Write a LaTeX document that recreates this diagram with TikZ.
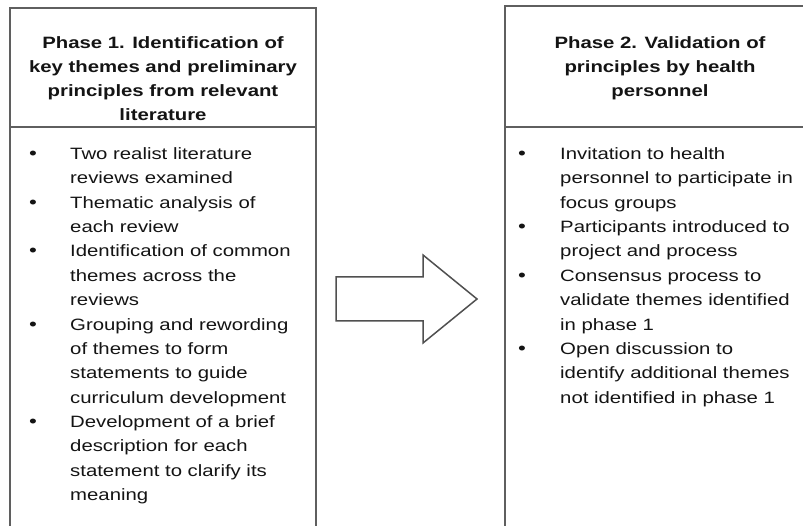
\documentclass[tikz,border=0pt]{standalone}
\usepackage{fontspec}
\setmainfont{Liberation Sans}[FakeStretch=1.24]
\definecolor{boxline}{RGB}{95,95,95}
\definecolor{arrline}{RGB}{80,80,80}
\definecolor{txt}{RGB}{20,20,20}
\begin{document}
\begin{tikzpicture}[x=1pt,y=-1pt,
  boxframe/.style={draw=boxline,line width=1.8pt},
  arrowshape/.style={draw=arrline,line width=1.5pt,line join=miter,fill=white},
  bodyline/.style={anchor=base west,inner sep=0pt,text=txt,font=\fontsize{16.4}{18}\selectfont},
  headline/.style={anchor=base,inner sep=0pt,text=txt,font=\fontsize{16.4}{18}\selectfont\bfseries},
  bulletmark/.style={anchor=base,inner sep=0pt,text=txt,font=\fontsize{18}{18}\selectfont}]
\useasboundingbox (0,0) rectangle (803,526);
\fill[white] (0,0) rectangle (803,526);
% boxes
\draw[boxframe] (10,540) -- (10,8) -- (316,8) -- (316,540);
\draw[boxframe] (10,127) -- (316,127);
\draw[boxframe] (505,540) -- (505,6) -- (815,6);
\draw[boxframe] (505,127) -- (815,127);
% block arrow
\coordinate (a1) at (336,277);
\coordinate (a2) at (423,277);
\coordinate (a3) at (423,255);
\coordinate (a4) at (477,299);
\coordinate (a5) at (423,343);
\coordinate (a6) at (423,321);
\coordinate (a7) at (336,321);
\draw[arrowshape] (a1) -- (a2) -- (a3) -- (a4) -- (a5) -- (a6) -- (a7) -- cycle;
% headers
\foreach \t [count=\i] in {Phase 1. Identification of,key themes and preliminary,principles from relevant,literature}
  \node[headline] (LH\i) at (163,48.5+24*\i-24) {\t};
\foreach \t [count=\i] in {Phase 2. Validation of,principles by health,personnel}
  \node[headline] (RH\i) at (660,48.5+24*\i-24) {\t};
% left body
\foreach \t [count=\i] in {Two realist literature,reviews examined,Thematic analysis of,each review,Identification of common,themes across the,reviews,Grouping and rewording,of themes to form,statements to guide,curriculum development,Development of a brief,description for each,statement to clarify its,meaning}
  \node[bodyline] (LB\i) at (70,159.5+24.36*\i-24.36) {\t};
\foreach \i in {1,3,5,8,12}
  \node[bulletmark] (LD\i) at (33,159.5+24.36*\i-24.36) {•};
% right body
\foreach \t [count=\i] in {Invitation to health,personnel to participate in,focus groups,Participants introduced to,project and process,Consensus process to,validate themes identified,in phase 1,Open discussion to,identify additional themes,not identified in phase 1}
  \node[bodyline] (RB\i) at (560,159.5+24.36*\i-24.36) {\t};
\foreach \i in {1,4,6,9}
  \node[bulletmark] (RD\i) at (522,159.5+24.36*\i-24.36) {•};
\end{tikzpicture}
\end{document}
